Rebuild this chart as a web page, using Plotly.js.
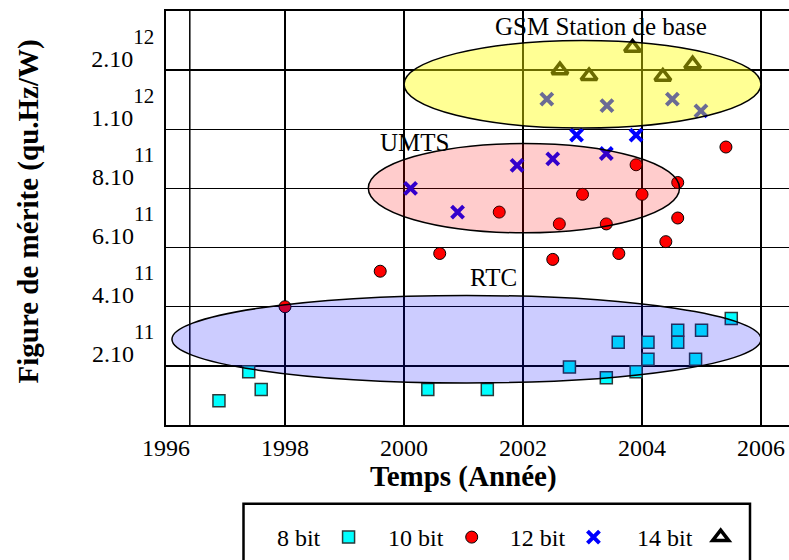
<!DOCTYPE html>
<html>
<head>
<meta charset="utf-8">
<script src="https://cdn.plot.ly/plotly-3.0.1.min.js"></script>
<style>
html,body{margin:0;padding:0;background:#ffffff;}
#chart{width:789px;height:560px;}
</style>
</head>
<body>
<div id="chart"></div>
<script>
// Y values are in tick-step units of the original (non-linear) axis:
// 1 = 2.10^11, 2 = 4.10^11, 3 = 6.10^11, 4 = 8.10^11, 5 = 1.10^12, 6 = 2.10^12
const seriesNames = ['8 bit', '10 bit', '12 bit', '14 bit'];

const bit8Year  = [1996.89, 1997.39, 1997.60, 2000.40, 2001.40, 2002.78, 2003.40, 2003.60, 2003.90, 2004.10, 2004.10, 2004.60, 2004.60, 2004.90, 2005.00, 2005.50];
const bit8Merit = [0.41, 0.90, 0.60, 0.60, 0.60, 0.98, 0.80, 1.40, 0.90, 1.40, 1.11, 1.60, 1.40, 1.11, 1.60, 1.80];

const bit10Year  = [1998.00, 1999.60, 2000.60, 2001.60, 2002.50, 2002.61, 2003.00, 2003.40, 2003.61, 2003.90, 2004.00, 2004.40, 2004.60, 2004.60, 2005.41];
const bit10Merit = [2.00, 2.60, 2.90, 3.60, 2.80, 3.40, 3.90, 3.40, 2.90, 4.40, 3.90, 3.10, 4.10, 3.50, 4.70];

const bit12Year  = [2000.11, 2000.90, 2001.90, 2002.50, 2002.90, 2003.40, 2003.90, 2002.40, 2003.41, 2004.51, 2004.99];
const bit12Merit = [4.00, 3.60, 4.39, 4.50, 4.90, 4.59, 4.90, 5.51, 5.40, 5.51, 5.31];

const bit14Year  = [2002.62, 2003.11, 2003.84, 2004.35, 2004.85];
const bit14Merit = [6.00, 5.90, 6.38, 5.89, 6.10];

const xTickVals = [1996, 1998, 2000, 2002, 2004, 2006];
const xTickText = ['1996', '1998', '2000', '2002', '2004', '2006'];
const extraGridYear = [1996.4];
const yTickVals = [1, 2, 3, 4, 5, 6];
const yTickMantissa = ['2.10', '4.10', '6.10', '8.10', '1.10', '2.10'];
const yTickExponent = ['11', '11', '11', '11', '12', '12'];

// Technology regions (ellipses)
const regionNames = ['GSM Station de base', 'UMTS', 'RTC'];
const regionYearFrom = [2000.0, 1999.4, 1996.1];
const regionYearTo   = [2006.0, 2004.63, 2006.0];
const regionMeritFrom = [5.02, 3.25, 0.71];
const regionMeritTo   = [6.50, 4.76, 2.19];
const regionLabelYear  = [2003.31, 2000.18, 2001.51];
const regionLabelMerit = [6.73, 4.77, 2.50];

const FONT = 'Liberation Serif, Times New Roman, serif';

const traces = [
  {x: bit8Year, y: bit8Merit, name: '', legend: 'legend', type: 'scatter', mode: 'markers',
   marker: {symbol: 'square', size: 12, color: '#00ffff', line: {color: '#2a3a3a', width: 1.5}}},
  {x: bit10Year, y: bit10Merit, name: '', legend: 'legend2', type: 'scatter', mode: 'markers',
   marker: {symbol: 'circle', size: 12, color: '#ff0000', line: {color: '#000000', width: 1}}},
  {x: bit12Year, y: bit12Merit, name: '', legend: 'legend3', type: 'scatter', mode: 'markers',
   marker: {symbol: 'x-thin', size: 12, color: '#0000ff', line: {color: '#0000ff', width: 4}}},
  {x: bit14Year, y: bit14Merit, name: '', legend: 'legend4', type: 'scatter', mode: 'markers',
   marker: {symbol: 'triangle-up-open', size: 14, color: '#000000', line: {color: '#000000', width: 3.5}}}
];

const regionFills = ['rgba(255,255,0,0.42)', 'rgba(255,0,0,0.2)', 'rgba(0,0,255,0.2)'];
const shapes = extraGridYear.map(v => ({
  type: 'line', xref: 'x', yref: 'paper', x0: v, x1: v, y0: 0, y1: 1, layer: 'below',
  line: {color: '#000000', width: 1.5}
}));
regionNames.forEach((n, i) => shapes.push({
  type: 'circle', xref: 'x', yref: 'y', layer: 'above',
  x0: regionYearFrom[i], x1: regionYearTo[i], y0: regionMeritFrom[i], y1: regionMeritTo[i],
  fillcolor: regionFills[i], line: {color: '#000000', width: 1.5}
}));
// legend frame
shapes.push({type: 'rect', xref: 'paper', yref: 'paper', x0: 0.1244, x1: 0.9374, y0: -0.1904, y1: -0.40,
  line: {color: '#000000', width: 2.5}, fillcolor: 'rgba(0,0,0,0)', layer: 'above'});

const annotations = regionNames.map((n, i) => ({
  x: regionLabelYear[i], y: regionLabelMerit[i], xref: 'x', yref: 'y', text: n, showarrow: false,
  font: {family: FONT, size: 25, color: '#000000'}, xanchor: 'center', yanchor: 'middle'
}));
annotations.push({x: 0.4783, y: -0.1253, xref: 'paper', yref: 'paper', text: '<b>Temps (Année)</b>',
  showarrow: false, font: {family: FONT, size: 29, color: '#000000'}, xanchor: 'center', yanchor: 'middle'});
annotations.push({x: -0.2215, y: 0.5157, xref: 'paper', yref: 'paper', text: '<b>Figure de mérite (qu.Hz/W)</b>',
  showarrow: false, textangle: -90, font: {family: FONT, size: 29, color: '#000000'}, xanchor: 'center', yanchor: 'middle'});

const yTickText = yTickMantissa.map((m, i) => m + '<span style="font-size:21px;baseline-shift:23px">' + yTickExponent[i] + '</span>');

function legendFor(i, xpos) {
  return {title: {text: seriesNames[i], side: 'left', font: {family: FONT, size: 24, color: '#000000'}},
    x: xpos, y: -0.2723, xanchor: 'left', yanchor: 'middle', orientation: 'h',
    bgcolor: 'rgba(0,0,0,0)', borderwidth: 0, font: {family: FONT, size: 24, color: '#000000'},
    itemclick: false, itemdoubleclick: false};
}

const layout = {
  width: 789, height: 560,
  margin: {l: 166, r: 0, t: 11, b: 134},
  paper_bgcolor: '#ffffff', plot_bgcolor: '#ffffff',
  font: {family: FONT, size: 24, color: '#000000'},
  showlegend: true,
  legend: legendFor(0, 0.1748),
  legend2: legendFor(1, 0.3532),
  legend3: legendFor(2, 0.5486),
  legend4: legendFor(3, 0.7528),
  xaxis: {range: [1996, 2006.47], tickvals: xTickVals, ticktext: xTickText, showgrid: true,
    gridcolor: '#000000', gridwidth: 1.5, showline: true, linecolor: '#000000', linewidth: 2, mirror: true,
    ticks: '', zeroline: false, tickfont: {family: FONT, size: 24, color: '#000000'}, fixedrange: true},
  yaxis: {range: [0, 7], tickvals: yTickVals, ticktext: yTickText, showgrid: true,
    gridcolor: '#000000', gridwidth: 1.5, showline: true, linecolor: '#000000', linewidth: 2, mirror: true,
    ticks: '', zeroline: false, ticklabelshift: -12, ticklabelstandoff: 5,
    tickfont: {family: FONT, size: 24, color: '#000000'}, fixedrange: true},
  shapes: shapes,
  annotations: annotations,
  hovermode: false
};

Plotly.newPlot('chart', traces, layout, {displayModeBar: false, staticPlot: true});
</script>
</body>
</html>
